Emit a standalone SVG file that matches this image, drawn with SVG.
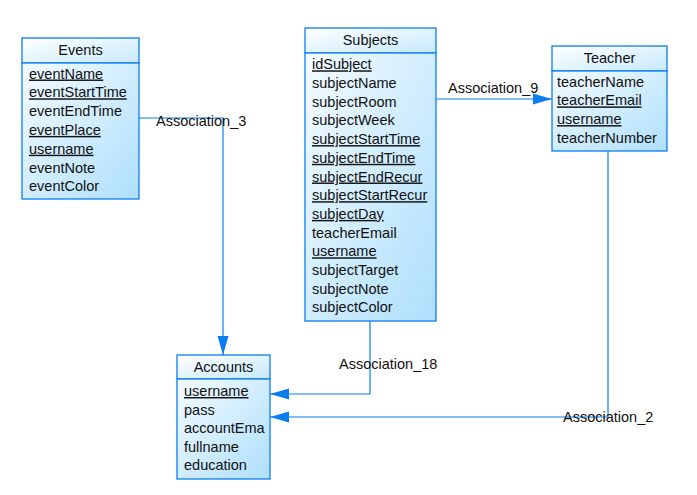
<svg xmlns="http://www.w3.org/2000/svg" width="697" height="495" viewBox="0 0 697 495">
<defs>
<linearGradient id="g" x1="0" y1="0" x2="1" y2="1">
<stop offset="0" stop-color="#f4fbff"/>
<stop offset="1" stop-color="#aedffc"/>
</linearGradient>
<linearGradient id="gh" x1="0" y1="0" x2="1" y2="1">
<stop offset="0" stop-color="#ffffff"/>
<stop offset="1" stop-color="#c6e9fd"/>
</linearGradient>
<marker id="arr" markerUnits="userSpaceOnUse" markerWidth="20" markerHeight="12" refX="19" refY="6" orient="auto">
<path d="M0,0.5 L19,6 L0,11.5 z" fill="#0a7ef0"/>
</marker>
</defs>
<style>
.box{stroke:#0a7ef0;stroke-width:1.3;fill:url(#g)}
.hd{stroke:#0a7ef0;stroke-width:1.3;fill:url(#gh)}
text{font-family:"Liberation Sans",Arial,sans-serif;font-size:14.5px;fill:#111}
.t{text-anchor:middle}
.u{text-decoration:underline}
.c{fill:none;stroke:#0a7ef0;stroke-width:1.2}
</style>
<rect width="697" height="495" fill="#ffffff"/>
<g id="connectors">
<path class="c" d="M139,118 H223 V355" marker-end="url(#arr)"/>
<path class="c" d="M370,321 V394 H270" marker-end="url(#arr)"/>
<path class="c" d="M436,99 H552" marker-end="url(#arr)"/>
<path class="c" d="M608,151 V417 H270" marker-end="url(#arr)"/>
<text x="156" y="125.5">Association_3</text>
<text x="339" y="368.5">Association_18</text>
<text x="448" y="92.5">Association_9</text>
<text x="563" y="421.5">Association_2</text>
</g>
<g id="Events">
<rect class="hd" x="22" y="38" width="117" height="25"/>
<rect class="box" x="22" y="63" width="117" height="136"/>
<text class="t" x="80.5" y="55">Events</text>
<text class="u" x="29" y="78.5">eventName</text>
<text class="u" x="29" y="97.3">eventStartTime</text>
<text x="29" y="116.1">eventEndTime</text>
<text class="u" x="29" y="134.9">eventPlace</text>
<text class="u" x="29" y="153.7">username</text>
<text x="29" y="172.5">eventNote</text>
<text x="29" y="191.3">eventColor</text>
</g>
<g id="Subjects">
<rect class="hd" x="305" y="28" width="131" height="25"/>
<rect class="box" x="305" y="53" width="131" height="268"/>
<text class="t" x="370.5" y="45">Subjects</text>
<text class="u" x="312" y="69.3">idSubject</text>
<text x="312" y="88">subjectName</text>
<text x="312" y="106.7">subjectRoom</text>
<text x="312" y="125.4">subjectWeek</text>
<text class="u" x="312" y="144.1">subjectStartTime</text>
<text class="u" x="312" y="162.8">subjectEndTime</text>
<text class="u" x="312" y="181.5">subjectEndRecur</text>
<text class="u" x="312" y="200.2">subjectStartRecur</text>
<text class="u" x="312" y="218.9">subjectDay</text>
<text x="312" y="237.6">teacherEmail</text>
<text class="u" x="312" y="256.3">username</text>
<text x="312" y="275">subjectTarget</text>
<text x="312" y="293.7">subjectNote</text>
<text x="312" y="312.4">subjectColor</text>
</g>
<g id="Teacher">
<rect class="hd" x="552" y="46" width="115" height="25"/>
<rect class="box" x="552" y="71" width="115" height="80"/>
<text class="t" x="609.5" y="63">Teacher</text>
<text x="557" y="86.7">teacherName</text>
<text class="u" x="557" y="105.4">teacherEmail</text>
<text class="u" x="557" y="124.1">username</text>
<text x="557" y="142.8">teacherNumber</text>
</g>
<g id="Accounts">
<rect class="hd" x="177" y="355" width="93" height="24"/>
<rect class="box" x="177" y="379" width="93" height="100"/>
<text class="t" x="223.5" y="371.5">Accounts</text>
<text class="u" x="184" y="396">username</text>
<text x="184" y="414.5">pass</text>
<text x="184" y="433">accountEma</text>
<text x="184" y="451.5">fullname</text>
<text x="184" y="470">education</text>
</g>
</svg>
